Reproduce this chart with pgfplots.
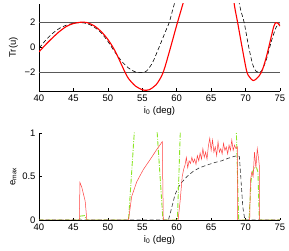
\documentclass[border=0pt]{standalone}
\usepackage{fontspec}
\setmainfont{Liberation Sans}
\usepackage{pgfplots}
\pgfplotsset{compat=1.18}
\definecolor{mygreen}{rgb}{0.55,0.9,0.15}
\definecolor{hline}{rgb}{0.35,0.35,0.35}
\definecolor{thinred}{rgb}{1,0.25,0.25}
\pgfplotsset{myax/.style={
 scale only axis, width=241bp, height=87bp,
 xmin=40,xmax=75, xtick={40,45,...,75},
 axis x line=bottom, axis y line=left,
 axis line style={-, black, line width=0.5bp},
 tick align=inside, major tick length=2.5bp,
 tick style={black, line width=0.5bp},
 every tick label/.append style={font=\fontsize{9.5}{11}\selectfont},
 label style={font=\fontsize{9.5}{11}\selectfont},
 /pgf/number format/assume math mode=true,
 xlabel={i\textsubscript{0} (deg)},
 xlabel style={at={(axis description cs:0.5,0)}, anchor=center, yshift=-20bp},
 ylabel style={at={(axis description cs:-0.106,0.5)}, anchor=center, rotate=0},
}}
\begin{document}
\begin{tikzpicture}
\useasboundingbox (0,0) rectangle (289bp,251bp);
\begin{axis}[myax, at={(39bp,160bp)}, anchor=south west,
 ymin=-3.5, ymax=3.5, ytick={-2,0,2}, yticklabels={−2,0,2},
 ylabel={Tr(u)}]
\addplot[hline, line width=0.6bp] coordinates {(40,2) (75,2)};
\addplot[hline, line width=0.6bp] coordinates {(40,-2) (75,-2)};
% black dashed
\addplot[black, line width=0.6bp, dash pattern=on 4bp off 2.5bp, smooth] coordinates {
(40,-0.05) (41,0.6) (42,1.15) (43,1.55) (44,1.8) (45,1.95) (46,2.0) (47,1.92)
(48,1.65) (49,1.2) (50,0.5) (51,-0.35) (52,-1.1) (53,-1.65) (54,-1.97) (54.9,-2.0)
(55.6,-1.9) (56.5,-1.2) (57.5,0.1) (58.3,1.2) (58.9,2.0) (59.4,3.0) (59.8,3.8)};
\addplot[black, line width=0.6bp, dash pattern=on 4bp off 2.5bp, smooth] coordinates {
(69.0,3.8) (69.3,3.0) (69.8,2.0) (70.4,0.2) (71.0,-1.3) (71.5,-1.9) (71.9,-2.0)
(72.3,-1.9) (73.0,-1.0) (73.8,0.6) (74.5,1.7) (75,1.9)};
% red
\addplot[red, line width=1.1bp, smooth] coordinates {
(40,-0.35) (41,0.25) (42,0.8) (43,1.3) (44,1.7) (45,1.93) (46,2.03) (46.5,2.04)
(47,2.0) (48,1.75) (49,1.3) (50,0.65) (51,-0.23) (52,-1.4) (52.5,-2.0) (53,-2.5)
(54,-3.1) (55,-3.4) (55.6,-3.44) (56,-3.4) (57,-3.0) (58,-2.05) (59,-0.2)
(60,1.8) (60.5,2.75) (61,3.7)};
\addplot[red, line width=1.1bp, smooth] coordinates {
(68.3,3.7) (68.5,3.0) (68.85,2.0) (69.5,0.0) (70.16,-1.9) (70.6,-2.4) (71.1,-2.66)
(71.6,-2.5) (72.3,-2.0) (73,-0.8) (73.7,0.8) (74.1,1.7) (74.4,2.0) (74.7,1.95) (75,1.72)};
\end{axis}
\begin{axis}[myax, at={(39bp,31bp)}, anchor=south west,
 ymin=0, ymax=1, ytick={0,0.5,1}, yticklabels={0,0.5,1},
 ylabel={e\textsubscript{max}}]
% black dashed
\addplot[black!80, line width=0.6bp, dash pattern=on 4bp off 2.5bp] coordinates {
(40,0) (58.8,0) (59.2,0.12) (59.75,0.29) (60.2,0.37) (60.7,0.43) (61.5,0.5)
(62.4,0.56) (63.3,0.6) (64.35,0.63) (65.5,0.66) (66.5,0.68) (67.5,0.71) (68.3,0.73)
(68.8,0.74) (69.1,0.73) (69.3,0.5) (69.6,0.15) (69.9,0) (75,0)};
% green
\addplot[mygreen, line width=0.9bp, dash pattern=on 5bp off 1.5bp on 0.8bp off 1.5bp] coordinates {
(40,0) (45.9,0) (46.0,0.045) (46.6,0.05) (46.9,0) (53,0) (54,1.2) (57,1.2) (58,0)
(60.1,0) (60.6,1.2) (68.6,1.2) (69.0,0) (70.5,0) (70.8,0.45) (71.0,0.55) (71.3,0.6)
(71.6,0.6) (71.8,0.55) (72.0,0) (75,0)};
% red
\addplot[thinred, line width=0.5bp] coordinates {
(40,0) (45.85,0) (45.95,0.43) (46.2,0.38) (46.45,0.3) (46.7,0.22) (46.95,0) (53,0)
(53.46,0.27) (54.2,0.44) (55.15,0.58) (56.1,0.69) (57.1,0.81) (57.9,0.9) (58.05,0)
(60.2,0) (60.5,0.22) (60.8,0.5) (61.0,0.58) (61.2,0.63) (61.4,0.72) (61.6,0.6)
(61.8,0.68) (62.0,0.65) (62.2,0.72) (62.4,0.66) (62.6,0.7) (62.8,0.64) (63.0,0.74)
(63.2,0.68) (63.4,0.77) (63.6,0.7) (63.8,0.82) (64.0,0.72) (64.2,0.78) (64.4,0.7)
(64.6,0.85) (64.8,0.94) (65.0,0.8) (65.2,0.92) (65.4,0.78) (65.6,0.84) (65.8,0.74)
(66.0,0.9) (66.2,0.78) (66.4,0.82) (66.6,0.76) (66.8,0.88) (67.0,0.8) (67.2,0.84)
(67.4,0.76) (67.6,0.86) (67.8,0.8) (68.0,0.92) (68.2,0.8) (68.4,0.86) (68.6,0.82)
(68.8,0.84) (68.85,0) (70.6,0) (70.7,0.45) (70.9,0.55) (71.1,0.5) (71.3,0.78)
(71.5,0.6) (71.7,0.82) (71.9,0.7) (72.0,0.62) (72.05,0) (75,0)};
\end{axis}
\end{tikzpicture}
\end{document}
